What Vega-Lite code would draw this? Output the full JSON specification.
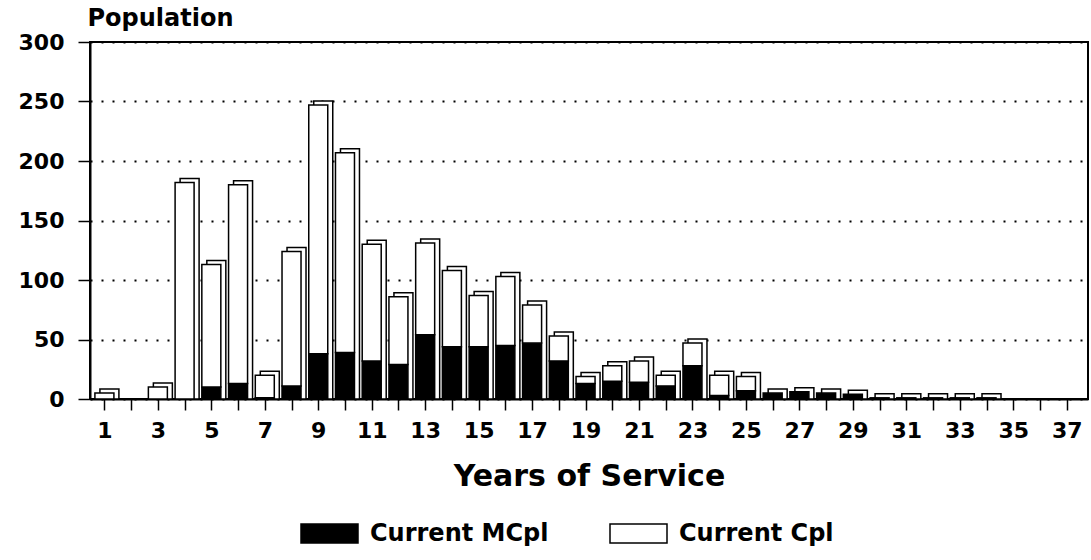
{
  "$schema": "https://vega.github.io/schema/vega-lite/v6.json",
  "autosize": {"type": "none"},
  "width": 998,
  "height": 357,
  "padding": {"left": 90, "top": 42, "right": 3, "bottom": 161},
  "background": "white",
  "config": {
    "font": "DejaVu Sans",
    "view": {"stroke": "black", "strokeWidth": 2},
    "axis": {"labelFont": "DejaVu Sans", "titleFont": "DejaVu Sans", "labelColor": "black", "titleColor": "black", "domainColor": "black", "tickColor": "black", "labelFontWeight": "bold", "titleFontWeight": "bold"}
  },
  "data": {
    "values": [
      {"year": 1, "series": "Current MCpl", "count": 0}, {"year": 1, "series": "Current Cpl", "count": 5},
      {"year": 2, "series": "Current MCpl", "count": 0}, {"year": 2, "series": "Current Cpl", "count": 0},
      {"year": 3, "series": "Current MCpl", "count": 0}, {"year": 3, "series": "Current Cpl", "count": 10},
      {"year": 4, "series": "Current MCpl", "count": 0}, {"year": 4, "series": "Current Cpl", "count": 182},
      {"year": 5, "series": "Current MCpl", "count": 10}, {"year": 5, "series": "Current Cpl", "count": 103},
      {"year": 6, "series": "Current MCpl", "count": 13}, {"year": 6, "series": "Current Cpl", "count": 167},
      {"year": 7, "series": "Current MCpl", "count": 1}, {"year": 7, "series": "Current Cpl", "count": 19},
      {"year": 8, "series": "Current MCpl", "count": 11}, {"year": 8, "series": "Current Cpl", "count": 113},
      {"year": 9, "series": "Current MCpl", "count": 38}, {"year": 9, "series": "Current Cpl", "count": 209},
      {"year": 10, "series": "Current MCpl", "count": 39}, {"year": 10, "series": "Current Cpl", "count": 168},
      {"year": 11, "series": "Current MCpl", "count": 32}, {"year": 11, "series": "Current Cpl", "count": 98},
      {"year": 12, "series": "Current MCpl", "count": 29}, {"year": 12, "series": "Current Cpl", "count": 57},
      {"year": 13, "series": "Current MCpl", "count": 54}, {"year": 13, "series": "Current Cpl", "count": 77},
      {"year": 14, "series": "Current MCpl", "count": 44}, {"year": 14, "series": "Current Cpl", "count": 64},
      {"year": 15, "series": "Current MCpl", "count": 44}, {"year": 15, "series": "Current Cpl", "count": 43},
      {"year": 16, "series": "Current MCpl", "count": 45}, {"year": 16, "series": "Current Cpl", "count": 58},
      {"year": 17, "series": "Current MCpl", "count": 47}, {"year": 17, "series": "Current Cpl", "count": 32},
      {"year": 18, "series": "Current MCpl", "count": 32}, {"year": 18, "series": "Current Cpl", "count": 21},
      {"year": 19, "series": "Current MCpl", "count": 13}, {"year": 19, "series": "Current Cpl", "count": 6},
      {"year": 20, "series": "Current MCpl", "count": 15}, {"year": 20, "series": "Current Cpl", "count": 13},
      {"year": 21, "series": "Current MCpl", "count": 14}, {"year": 21, "series": "Current Cpl", "count": 18},
      {"year": 22, "series": "Current MCpl", "count": 11}, {"year": 22, "series": "Current Cpl", "count": 9},
      {"year": 23, "series": "Current MCpl", "count": 28}, {"year": 23, "series": "Current Cpl", "count": 19},
      {"year": 24, "series": "Current MCpl", "count": 3}, {"year": 24, "series": "Current Cpl", "count": 17},
      {"year": 25, "series": "Current MCpl", "count": 7}, {"year": 25, "series": "Current Cpl", "count": 12},
      {"year": 26, "series": "Current MCpl", "count": 5}, {"year": 26, "series": "Current Cpl", "count": 0},
      {"year": 27, "series": "Current MCpl", "count": 6}, {"year": 27, "series": "Current Cpl", "count": 0},
      {"year": 28, "series": "Current MCpl", "count": 5}, {"year": 28, "series": "Current Cpl", "count": 0},
      {"year": 29, "series": "Current MCpl", "count": 4}, {"year": 29, "series": "Current Cpl", "count": 0},
      {"year": 30, "series": "Current MCpl", "count": 0}, {"year": 30, "series": "Current Cpl", "count": 1},
      {"year": 31, "series": "Current MCpl", "count": 0}, {"year": 31, "series": "Current Cpl", "count": 1},
      {"year": 32, "series": "Current MCpl", "count": 0}, {"year": 32, "series": "Current Cpl", "count": 1},
      {"year": 33, "series": "Current MCpl", "count": 0}, {"year": 33, "series": "Current Cpl", "count": 1},
      {"year": 34, "series": "Current MCpl", "count": 0}, {"year": 34, "series": "Current Cpl", "count": 1},
      {"year": 35, "series": "Current MCpl", "count": 0}, {"year": 35, "series": "Current Cpl", "count": 0},
      {"year": 36, "series": "Current MCpl", "count": 0}, {"year": 36, "series": "Current Cpl", "count": 0},
      {"year": 37, "series": "Current MCpl", "count": 0}, {"year": 37, "series": "Current Cpl", "count": 0}
    ]
  },
  "transform": [{"filter": "datum.count > 0"}],
  "encoding": {
    "x": {
      "field": "year", "type": "quantitative",
      "scale": {"domain": [0.648, 37.61], "nice": false, "zero": false},
      "axis": {
        "values": [1,2,3,4,5,6,7,8,9,10,11,12,13,14,15,16,17,18,19,20,21,22,23,24,25,26,27,28,29,30,31,32,33,34,35,36,37],
        "labelExpr": "datum.value % 2 == 1 ? datum.label : ''",
        "labelOverlap": false, "labelFlush": false,
        "labelFontSize": 22, "labelPadding": 10, "tickSize": 11, "tickWidth": 1.5,
        "domainWidth": 2, "grid": false,
        "title": "Years of Service", "titleFontSize": 30, "titlePadding": 20
      }
    }
  },
  "layer": [
    {
      "mark": {"type": "bar", "size": 19, "xOffset": 5, "yOffset": -4, "fill": "white", "stroke": "black", "strokeWidth": 1.5},
      "encoding": {
        "y": {"aggregate": "sum", "field": "count", "type": "quantitative"}
      }
    },
    {
      "mark": {"type": "bar", "size": 19, "stroke": "black", "strokeWidth": 1.5},
      "encoding": {
        "y": {
          "aggregate": "sum", "field": "count", "type": "quantitative", "stack": "zero",
          "scale": {"domain": [0, 300], "nice": false},
          "axis": {
            "values": [0, 50, 100, 150, 200, 250, 300],
            "labelFontSize": 22, "labelPadding": 14, "tickSize": 12, "tickWidth": 1.5,
            "domainWidth": 2,
            "grid": true, "gridColor": "black", "gridDash": [2, 9], "gridWidth": 2,
            "title": "Population", "titleFontSize": 24, "titleAngle": 0,
            "titleAlign": "left", "titleBaseline": "alphabetic", "titleX": -3, "titleY": -17
          }
        },
        "color": {
          "field": "series", "type": "nominal",
          "scale": {"domain": ["Current MCpl", "Current Cpl"], "range": ["black", "white"]},
          "legend": {
            "title": null, "orient": "none", "direction": "horizontal",
            "legendX": 210, "legendY": 462,
            "symbolType": "M-1,-0.333L1,-0.333L1,0.333L-1,0.333Z",
            "symbolSize": 3249, "symbolStrokeColor": "black", "symbolStrokeWidth": 1.5,
            "labelFont": "DejaVu Sans", "labelFontWeight": "bold", "labelFontSize": 24, "labelColor": "black",
            "labelLimit": 400, "labelOffset": 11, "columnPadding": 58
          }
        },
        "order": {"field": "series", "sort": "descending"}
      }
    }
  ]
}
